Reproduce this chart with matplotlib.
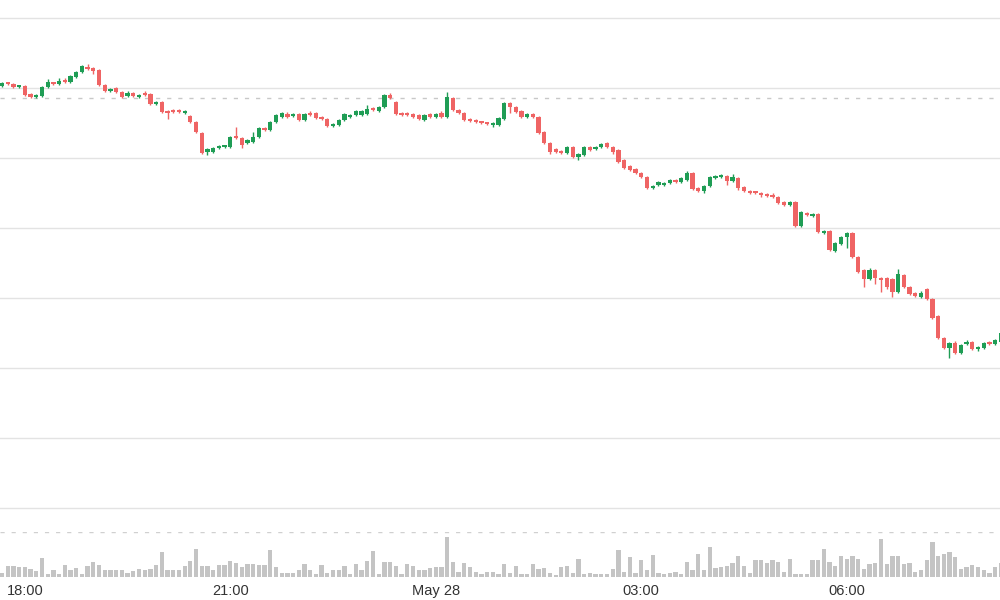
import pandas as pd
import matplotlib
matplotlib.use("Agg")
import matplotlib.pyplot as plt
import matplotlib.dates as mdates

# 5 minute candles, 27 May 17:40 -> 28 May 08:15
times = pd.date_range("2024-05-27 17:40", periods=176, freq="5min")

opens = [514, 517, 516, 513, 514, 506, 503, 504, 513, 517,
         516, 520, 518, 523, 528, 533, 532, 530, 515, 509,
         512, 508, 504, 507, 503, 507, 506, 496, 498, 489,
         490, 490, 487, 484, 478, 467, 448, 448, 452, 453,
         453, 463, 462, 457, 458, 463, 472, 470, 478, 483,
         486, 484, 486, 480, 487, 487, 483, 481, 474, 475,
         480, 483, 485, 485, 486, 492, 489, 493, 505, 498,
         487, 487, 486, 485, 480, 486, 483, 487, 483, 502,
         490, 487, 481, 480, 478, 477, 475, 475, 481, 497,
         493, 489, 483, 486, 483, 468, 457, 451, 449, 447,
         453, 443, 445, 453, 451, 453, 457, 453, 450, 440,
         434, 431, 427, 423, 412, 415, 415, 417, 420, 418,
         420, 427, 412, 409, 414, 422, 423, 424, 419, 422,
         413, 409, 408, 407, 406, 405, 403, 398, 395, 398,
         374, 387, 384, 386, 367, 369, 349, 356, 363, 367,
         343, 330, 321, 330, 322, 322, 321, 308, 325, 313,
         307, 303, 311, 301, 284, 262, 252, 257, 247, 256,
         258, 251, 252, 258, 256, 258]

highs = [518, 518, 517, 515, 515, 507, 506, 514, 521, 518,
         522, 522, 525, 529, 535, 536, 533, 531, 516, 512,
         513, 509, 509, 508, 506, 509, 507, 499, 499, 490,
         491, 491, 490, 485, 479, 468, 452, 453, 455, 455,
         464, 473, 463, 461, 468, 473, 473, 479, 486, 488,
         488, 487, 487, 487, 489, 488, 484, 482, 477, 481,
         487, 486, 490, 490, 495, 493, 494, 506, 507, 499,
         488, 488, 487, 486, 486, 487, 487, 489, 508, 503,
         491, 488, 482, 481, 479, 478, 478, 483, 498, 498,
         494, 490, 487, 487, 484, 469, 458, 452, 450, 454,
         454, 447, 454, 454, 454, 457, 458, 454, 451, 441,
         435, 432, 428, 424, 415, 419, 418, 421, 421, 423,
         429, 428, 413, 415, 424, 425, 426, 425, 426, 423,
         414, 410, 409, 408, 407, 407, 404, 399, 399, 399,
         389, 388, 387, 387, 370, 370, 358, 364, 368, 368,
         344, 331, 332, 331, 323, 323, 322, 331, 326, 314,
         308, 309, 312, 302, 285, 263, 258, 259, 256, 260,
         259, 254, 258, 259, 261, 268]

lows = [513, 515, 512, 512, 504, 502, 502, 503, 512, 515,
        515, 517, 517, 522, 527, 530, 526, 514, 508, 508,
        507, 502, 503, 503, 502, 504, 495, 495, 487, 481,
        487, 487, 486, 477, 467, 446, 445, 447, 451, 452,
        452, 461, 452, 456, 457, 462, 469, 469, 477, 482,
        482, 483, 479, 479, 484, 481, 480, 473, 473, 474,
        479, 482, 484, 484, 485, 489, 488, 492, 501, 485,
        484, 484, 482, 480, 479, 482, 482, 482, 482, 489,
        486, 479, 478, 477, 476, 475, 473, 474, 480, 487,
        487, 482, 482, 482, 466, 456, 446, 447, 446, 446,
        442, 440, 444, 449, 450, 452, 452, 446, 437, 431,
        429, 426, 422, 411, 411, 414, 414, 416, 417, 417,
        419, 410, 408, 407, 413, 421, 422, 415, 418, 410,
        408, 406, 406, 403, 403, 402, 396, 394, 394, 373,
        373, 384, 383, 367, 366, 349, 348, 355, 352, 342,
        327, 313, 320, 316, 308, 311, 303, 307, 312, 305,
        303, 302, 300, 281, 261, 251, 242, 246, 246, 255,
        250, 249, 251, 255, 255, 257]

closes = [517, 516, 513, 514, 505, 503, 505, 513, 518, 516,
          519, 518, 524, 528, 534, 531, 529, 515, 509, 511,
          508, 503, 507, 504, 505, 505, 496, 498, 488, 487,
          488, 488, 489, 478, 468, 447, 451, 452, 454, 454,
          463, 462, 455, 460, 463, 472, 470, 478, 485, 487,
          483, 486, 480, 486, 485, 482, 481, 474, 476, 480,
          486, 485, 489, 489, 491, 490, 493, 505, 502, 486,
          485, 485, 483, 481, 485, 483, 486, 483, 503, 490,
          487, 480, 479, 478, 477, 476, 477, 482, 497, 493,
          488, 483, 486, 483, 467, 457, 448, 448, 447, 453,
          443, 446, 453, 450, 453, 456, 453, 448, 438, 432,
          430, 427, 423, 412, 414, 418, 417, 420, 418, 422,
          427, 411, 409, 414, 423, 423, 424, 419, 423, 412,
          409, 407, 407, 405, 404, 403, 397, 395, 398, 374,
          388, 385, 386, 368, 369, 350, 357, 363, 367, 343,
          328, 321, 330, 322, 320, 313, 308, 326, 313, 306,
          304, 307, 301, 282, 262, 252, 257, 247, 255, 258,
          251, 253, 257, 256, 260, 267]

volumes = [12, 33, 33, 30, 30, 25, 17, 55, 8, 20,
           8, 35, 20, 28, 10, 33, 45, 35, 22, 22,
           22, 22, 12, 18, 25, 22, 25, 35, 73, 20,
           20, 22, 33, 47, 82, 33, 33, 20, 35, 35,
           48, 40, 30, 37, 37, 35, 35, 80, 30, 13,
           13, 13, 22, 37, 20, 10, 35, 12, 20, 22,
           33, 10, 37, 20, 47, 77, 10, 43, 43, 33,
           10, 37, 33, 20, 20, 27, 30, 30, 118, 43,
           15, 40, 30, 15, 10, 15, 15, 10,
           37, 13, 32, 10, 10, 38, 25, 27, 13, 7,
           30, 33, 13, 53, 10, 13, 10, 10, 10, 25,
           80, 15, 58, 12, 50, 20, 65, 13, 10, 13,
           15, 10, 43, 20, 67, 20, 90, 28, 30, 32,
           42, 62, 33, 13, 50, 50, 40, 50, 45, 15,
           52, 8, 8, 10, 50, 50, 82, 45, 32, 62,
           52, 63, 52, 25, 37, 40, 113, 37, 62, 62,
           37, 42, 15, 22, 50, 103, 62, 67, 75, 60,
           23, 30, 35, 30, 22, 13, 30, 42]

grid_levels = [92, 162, 232, 302, 372, 442, 512, 582]
ref_level = 502
vol_top = 133

tick_times = pd.to_datetime(["2024-05-27 18:00", "2024-05-27 21:00", "2024-05-28 00:00",
                             "2024-05-28 03:00", "2024-05-28 06:00"])
tick_labels = ["18:00", "21:00", "May 28", "03:00", "06:00"]

green = "#1f9d55"
red = "#ef6464"

df = pd.DataFrame({"t": times, "o": opens, "h": highs, "l": lows, "c": closes, "v": volumes})
df["x"] = mdates.date2num(df["t"])
df["up"] = df["c"] >= df["o"]
df["col"] = df["up"].map({True: green, False: red})

step = 5 / 1440
body_w = step * 0.75
x_left = df["x"].iloc[0] - step * 0.35
x_right = x_left + step * 175.2

fig = plt.figure(figsize=(10, 6), dpi=100)
ax = fig.add_axes([0, 80 / 600, 1, 520 / 600])
axv = fig.add_axes([0, 23 / 600, 1, 45 / 600])

for y in grid_levels:
    ax.axhline(y, color="#e3e3e3", lw=1, zorder=0)
ax.axhline(ref_level, color="#c8c8c8", lw=1, ls=(0, (3, 5)), zorder=0)

ax.vlines(df["x"], df["l"], df["h"], colors=df["col"], lw=1, zorder=2)
bottoms = df[["o", "c"]].min(axis=1)
heights = (df["c"] - df["o"]).abs().clip(lower=2.5)
ax.bar(df["x"], heights, bottom=bottoms, width=body_w, color=df["col"], zorder=3)

ax.set_xlim(x_left, x_right)
ax.set_ylim(80, 600)
ax.axis("off")

axv.bar(df["x"], df["v"], width=body_w, color="#c4c4c4")
axv.axhline(vol_top, color="#d0d0d0", lw=1, ls=(0, (3, 5)))
axv.set_xlim(x_left, x_right)
axv.set_ylim(0, vol_top)
axv.set_yticks([])
for s in axv.spines.values():
    s.set_visible(False)
axv.set_xticks(mdates.date2num(tick_times))
axv.set_xticklabels(tick_labels, fontsize=10.5, color="#333333", family=["Liberation Sans", "DejaVu Sans"])
axv.tick_params(axis="x", length=0, pad=5)

fig.savefig("out.png", dpi=100, facecolor="white")
